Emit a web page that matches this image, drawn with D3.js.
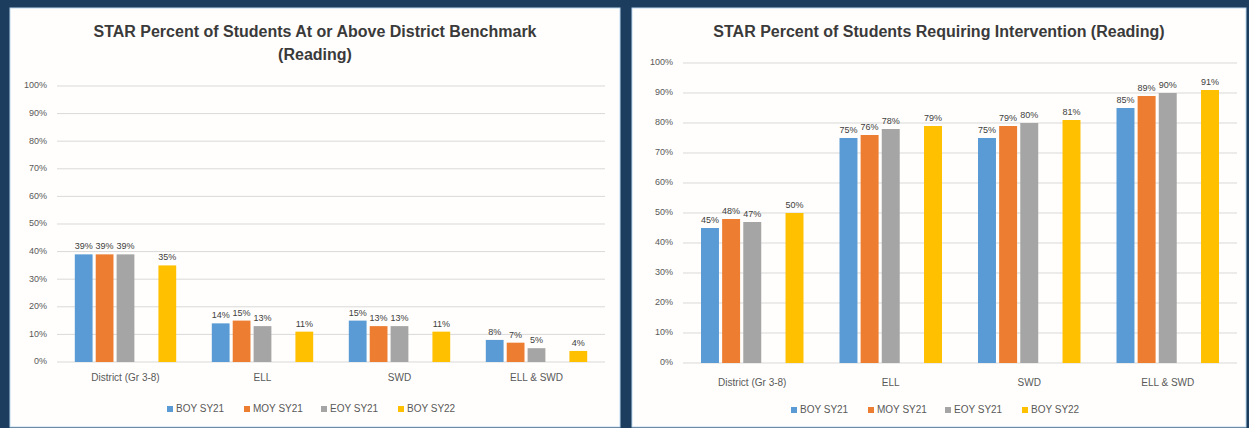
<!DOCTYPE html>
<html>
<head>
<meta charset="utf-8">
<script src="https://cdn.jsdelivr.net/npm/d3@7"></script>
<style>
  body { margin: 0; background: #1c3d5e; }
  svg { display: block; }
</style>
</head>
<body>
<div id="chart"></div>
<script>
// categories and series
var categories = ["District (Gr 3-8)", "ELL", "SWD", "ELL & SWD"];
var seriesNames = ["BOY SY21", "MOY SY21", "EOY SY21", "BOY SY22"];
// the 4th slot in each group is left empty in the original chart
var slotNames = ["BOY SY21", "MOY SY21", "EOY SY21", "(blank)", "BOY SY22"];
var seriesColors = ["#5b9bd5", "#ed7d31", "#a5a5a5", "#ffc000"];
var yTicks = [0, 10, 20, 30, 40, 50, 60, 70, 80, 90, 100];

// left chart: at or above benchmark (percent)
var benchBOY21 = [39, 14, 15, 8];
var benchMOY21 = [39, 15, 13, 7];
var benchEOY21 = [39, 13, 13, 5];
var benchBOY22 = [35, 11, 11, 4];

// right chart: requiring intervention (percent)
var interBOY21 = [45, 75, 75, 85];
var interMOY21 = [48, 76, 79, 89];
var interEOY21 = [47, 78, 80, 90];
var interBOY22 = [50, 79, 81, 91];

var W = 1249, H = 428;
var font = "'Liberation Sans', Arial, sans-serif";

var svg = d3.select("#chart").append("svg")
    .attr("width", W)
    .attr("height", H);

svg.append("rect")
    .attr("width", W).attr("height", H)
    .attr("fill", "#1c3d5e");

function drawChart(cfg) {
    var g = svg.append("g");

    // white panel
    g.append("rect")
        .attr("x", cfg.panel[0]).attr("y", cfg.panel[1])
        .attr("width", cfg.panel[2]).attr("height", cfg.panel[3])
        .attr("fill", "#fffefc")
        .attr("stroke", "#bdd7ee")
        .attr("stroke-width", 1);

    // title
    var cx = cfg.panel[0] + cfg.panel[2] / 2;
    cfg.title.forEach(function (line, i) {
        g.append("text")
            .attr("x", cx)
            .attr("y", cfg.titleY + i * 23)
            .attr("text-anchor", "middle")
            .attr("dominant-baseline", "middle")
            .attr("font-family", font)
            .attr("font-size", 16)
            .attr("font-weight", "bold")
            .attr("fill", "#3a3a3a")
            .text(line);
    });

    var y = d3.scaleLinear().domain([0, 100]).range([cfg.y0, cfg.y100]);
    var x0 = d3.scaleBand().domain(categories)
        .range([cfg.xLeft, cfg.xRight])
        .paddingInner(0.26).paddingOuter(0.13);
    var x1 = d3.scaleBand().domain(slotNames)
        .range([0, x0.bandwidth()])
        .paddingInner(0.15);

    // gridlines
    g.selectAll("line.grid").data(yTicks).enter().append("line")
        .attr("class", "grid")
        .attr("x1", cfg.xLeft).attr("x2", cfg.xRight)
        .attr("y1", function (d) { return y(d); })
        .attr("y2", function (d) { return y(d); })
        .attr("stroke", "#d9d9d9")
        .attr("stroke-width", 1);

    // y tick labels
    g.selectAll("text.ytick").data(yTicks).enter().append("text")
        .attr("class", "ytick")
        .attr("x", cfg.xLeft - 10)
        .attr("y", function (d) { return y(d); })
        .attr("text-anchor", "end")
        .attr("dominant-baseline", "middle")
        .attr("font-family", font)
        .attr("font-size", 9)
        .attr("fill", "#595959")
        .text(function (d) { return d + "%"; });

    // bars
    cfg.series.forEach(function (vals, si) {
        var slot = slotNames.indexOf(seriesNames[si]);
        var sg = g.append("g");
        sg.selectAll("rect").data(vals).enter().append("rect")
            .attr("x", function (d, i) { return x0(categories[i]) + x1(slotNames[slot]); })
            .attr("y", function (d) { return y(d); })
            .attr("width", x1.bandwidth())
            .attr("height", function (d) { return y(0) - y(d); })
            .attr("fill", seriesColors[si]);
        sg.selectAll("text").data(vals).enter().append("text")
            .attr("x", function (d, i) { return x0(categories[i]) + x1(slotNames[slot]) + x1.bandwidth() / 2; })
            .attr("y", function (d) { return y(d) - 5; })
            .attr("text-anchor", "middle")
            .attr("font-family", font)
            .attr("font-size", 9)
            .attr("fill", "#404040")
            .text(function (d) { return d + "%"; });
    });

    // category labels
    g.selectAll("text.cat").data(categories).enter().append("text")
        .attr("class", "cat")
        .attr("x", function (d) { return x0(d) + x0.bandwidth() / 2; })
        .attr("y", cfg.catY)
        .attr("text-anchor", "middle")
        .attr("dominant-baseline", "middle")
        .attr("font-family", font)
        .attr("font-size", 10)
        .attr("fill", "#595959")
        .text(function (d) { return d; });

    // legend
    var itemW = 77;
    var lx = cx - itemW * seriesNames.length / 2 + 6;
    seriesNames.forEach(function (name, i) {
        var ix = lx + i * itemW;
        g.append("rect")
            .attr("x", ix).attr("y", cfg.legendY - 3)
            .attr("width", 6).attr("height", 6)
            .attr("fill", seriesColors[i]);
        g.append("text")
            .attr("x", ix + 9)
            .attr("y", cfg.legendY)
            .attr("dominant-baseline", "middle")
            .attr("font-family", font)
            .attr("font-size", 10)
            .attr("fill", "#595959")
            .text(name);
    });
}

drawChart({
    panel: [10, 8, 610, 419],
    title: ["STAR Percent of Students At or Above District Benchmark", "(Reading)"],
    titleY: 33,
    xLeft: 57, xRight: 605,
    y0: 362, y100: 86,
    catY: 378,
    legendY: 409,
    series: [benchBOY21, benchMOY21, benchEOY21, benchBOY22]
});

drawChart({
    panel: [632, 8, 614, 419],
    title: ["STAR Percent of Students Requiring Intervention (Reading)"],
    titleY: 33,
    xLeft: 683, xRight: 1237,
    y0: 363, y100: 63,
    catY: 383,
    legendY: 410,
    series: [interBOY21, interMOY21, interEOY21, interBOY22]
});
</script>
</body>
</html>
